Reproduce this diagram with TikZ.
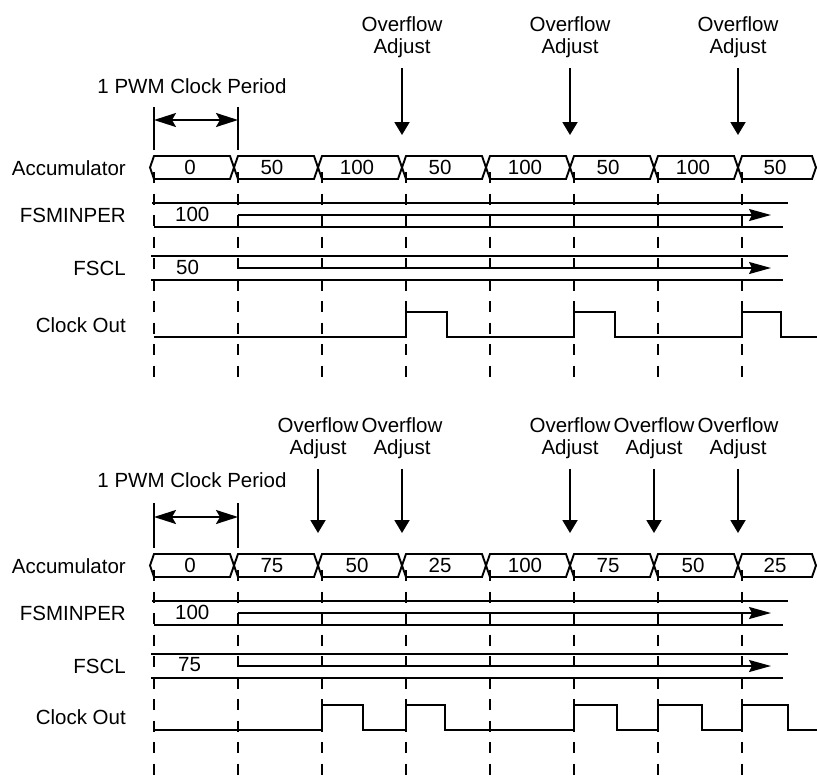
\documentclass[tikz,border=0pt]{standalone}
\usepackage{fontspec}
\setmainfont{Liberation Sans}
\usetikzlibrary{arrows.meta}

\tikzset{
  lbl/.style={inner sep=0pt, font=\fontsize{20.5}{22}\selectfont},
  rowlbl/.style={lbl, anchor=east},
  vallbl/.style={lbl, anchor=west},
  sig/.style={line width=1.9pt},
  grid/.style={line width=1.9pt, dash pattern=on 11pt off 10.5pt},
  ovf/.style={line width=1.9pt, shorten <=10pt, -{Triangle[length=13pt,width=15pt]}},
  hold/.style={line width=1.9pt, -{Stealth[length=22pt,width=12pt,inset=3pt]}},
  per/.style={line width=1.9pt, {Stealth[length=22pt,width=14pt,inset=4pt]}-{Stealth[length=22pt,width=14pt,inset=4pt]}}
}

\begin{document}
\begin{tikzpicture}[x=1pt,y=-1pt]
\useasboundingbox (0,0) rectangle (817,777);

%First diagram
\node[lbl,align=center] (ovA1) at (402,37.5) {Overflow\\Adjust}; \node[lbl,align=center] (ovA2) at (570,37.5) {Overflow\\Adjust}; \node[lbl,align=center] (ovA3) at (738,37.5) {Overflow\\Adjust};
\coordinate (dA1) at (402,135); \coordinate (dA2) at (570,135); \coordinate (dA3) at (738,135);
\draw[ovf] (ovA1) -- (dA1); \draw[ovf] (ovA2) -- (dA2); \draw[ovf] (ovA3) -- (dA3);

\node[lbl] (perA) at (192,86) {1 PWM Clock Period};
\draw[sig] (154,107)--(154,150); \draw[sig] (238,107)--(238,150); \draw[per] (154,120)--(238,120);

\node[rowlbl] (accA) at (126,168) {Accumulator}; \node[rowlbl] (minA) at (126,215) {FSMINPER}; \node[rowlbl] (sclA) at (126,268) {FSCL}; \node[rowlbl] (clkA) at (126,325) {Clock Out};

\draw[sig] (150,167.5)--(154,156)--(230,156)--(234,167.5)--(230,179)--(154,179)--cycle; \draw[sig] (234,167.5)--(238,156)--(314,156)--(318,167.5)--(314,179)--(238,179)--cycle;
\draw[sig] (318,167.5)--(322,156)--(398,156)--(402,167.5)--(398,179)--(322,179)--cycle; \draw[sig] (402,167.5)--(406,156)--(482,156)--(486,167.5)--(482,179)--(406,179)--cycle;
\draw[sig] (486,167.5)--(490,156)--(566,156)--(570,167.5)--(566,179)--(490,179)--cycle; \draw[sig] (570,167.5)--(574,156)--(650,156)--(654,167.5)--(650,179)--(574,179)--cycle;
\draw[sig] (654,167.5)--(658,156)--(734,156)--(738,167.5)--(734,179)--(658,179)--cycle; \draw[sig] (738,167.5)--(742,156)--(812,156)--(816,167.5)--(812,179)--(742,179)--cycle;
\node[lbl] (vA1) at (190,167.5) {0}; \node[lbl] (vA2) at (272,167.5) {50}; \node[lbl] (vA3) at (357,167.5) {100}; \node[lbl] (vA4) at (440,167.5) {50};
\node[lbl] (vA5) at (525,167.5) {100}; \node[lbl] (vA6) at (608,167.5) {50}; \node[lbl] (vA7) at (693,167.5) {100}; \node[lbl] (vA8) at (775,167.5) {50};

\draw[sig] (152,203)--(788,203); \draw[sig] (154,227)--(783,227); \draw[hold] (238,215)--(771,215); \node[vallbl] (mA) at (175,214) {100};
\draw[sig] (151,256)--(788,256); \draw[sig] (151,280)--(783,280); \draw[hold] (238,268)--(771,268); \node[vallbl] (sA) at (176,267) {50};

\draw[sig] (154,337)--(406,337)--(406,312)--(447,312)--(447,337)--(574,337)--(574,312)--(615,312)--(615,337)--(742,337)--(742,312)--(781,312)--(781,337)--(817,337);

\draw[grid] (154,172)--(154,377); \draw[grid] (238,172)--(238,377); \draw[grid] (322,172)--(322,377); \draw[grid] (406,172)--(406,377);
\draw[grid] (490,172)--(490,377); \draw[grid] (574,172)--(574,377); \draw[grid] (658,172)--(658,377); \draw[grid] (742,172)--(742,377);

%Second diagram
\node[lbl,align=center] (ovB1) at (318,438) {Overflow\\Adjust}; \node[lbl,align=center] (ovB2) at (402,438) {Overflow\\Adjust}; \node[lbl,align=center] (ovB3) at (570,438) {Overflow\\Adjust};
\node[lbl,align=center] (ovB4) at (654,438) {Overflow\\Adjust}; \node[lbl,align=center] (ovB5) at (738,438) {Overflow\\Adjust};
\coordinate (dB1) at (318,533); \coordinate (dB2) at (402,533); \coordinate (dB3) at (570,533); \coordinate (dB4) at (654,533); \coordinate (dB5) at (738,533);
\draw[ovf] (ovB1) -- (dB1); \draw[ovf] (ovB2) -- (dB2); \draw[ovf] (ovB3) -- (dB3); \draw[ovf] (ovB4) -- (dB4); \draw[ovf] (ovB5) -- (dB5);

\node[lbl] (perB) at (192,480) {1 PWM Clock Period};
\draw[sig] (154,503)--(154,548); \draw[sig] (238,503)--(238,548); \draw[per] (154,517)--(238,517);

\node[rowlbl] (accB) at (126,566) {Accumulator}; \node[rowlbl] (minB) at (126,613) {FSMINPER}; \node[rowlbl] (sclB) at (126,666) {FSCL}; \node[rowlbl] (clkB) at (126,717) {Clock Out};

\draw[sig] (150,565.5)--(154,554)--(230,554)--(234,565.5)--(230,577)--(154,577)--cycle; \draw[sig] (234,565.5)--(238,554)--(314,554)--(318,565.5)--(314,577)--(238,577)--cycle;
\draw[sig] (318,565.5)--(322,554)--(398,554)--(402,565.5)--(398,577)--(322,577)--cycle; \draw[sig] (402,565.5)--(406,554)--(482,554)--(486,565.5)--(482,577)--(406,577)--cycle;
\draw[sig] (486,565.5)--(490,554)--(566,554)--(570,565.5)--(566,577)--(490,577)--cycle; \draw[sig] (570,565.5)--(574,554)--(650,554)--(654,565.5)--(650,577)--(574,577)--cycle;
\draw[sig] (654,565.5)--(658,554)--(734,554)--(738,565.5)--(734,577)--(658,577)--cycle; \draw[sig] (738,565.5)--(742,554)--(812,554)--(816,565.5)--(812,577)--(742,577)--cycle;
\node[lbl] (vB1) at (190,565.5) {0}; \node[lbl] (vB2) at (272,565.5) {75}; \node[lbl] (vB3) at (357,565.5) {50}; \node[lbl] (vB4) at (440,565.5) {25};
\node[lbl] (vB5) at (525,565.5) {100}; \node[lbl] (vB6) at (608,565.5) {75}; \node[lbl] (vB7) at (693,565.5) {50}; \node[lbl] (vB8) at (775,565.5) {25};

\draw[sig] (152,601)--(788,601); \draw[sig] (154,625)--(783,625); \draw[hold] (238,613)--(771,613); \node[vallbl] (mB) at (175,612) {100};
\draw[sig] (151,654)--(788,654); \draw[sig] (151,678)--(783,678); \draw[hold] (238,666)--(771,666); \node[vallbl] (sB) at (178,665) {75};

\draw[sig] (154,730)--(322,730)--(322,705)--(363,705)--(363,730)--(406,730)--(406,705)--(445,705)--(445,730)--(574,730)--(574,705)--(617,705)--(617,730)--(658,730)--(658,705)--(702,705)--(702,730)--(742,730)--(742,705)--(788,705)--(788,730)--(817,730);

\draw[grid] (154,570)--(154,777); \draw[grid] (238,570)--(238,777); \draw[grid] (322,570)--(322,777); \draw[grid] (406,570)--(406,777);
\draw[grid] (490,570)--(490,777); \draw[grid] (574,570)--(574,777); \draw[grid] (658,570)--(658,777); \draw[grid] (742,570)--(742,777);

\end{tikzpicture}
\end{document}
